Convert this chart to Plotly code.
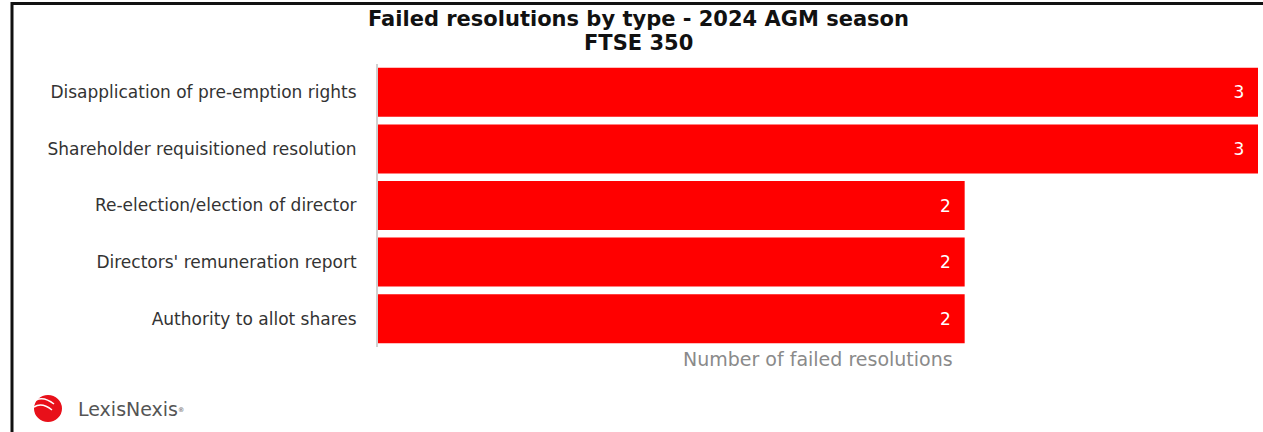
import plotly.graph_objects as go

categories = [
    "Disapplication of pre-emption rights",
    "Shareholder requisitioned resolution",
    "Re-election/election of director",
    "Directors' remuneration report",
    "Authority to allot shares",
]
values = [3, 3, 2, 2, 2]

W, H = 1263, 432
L, R, T, B = 378, 5, 64, 85
PW, PH = W - L - R, H - T - B


def px(x):
    return (x - L) / PW


def py(y):
    return (H - B - y) / PH


FONT = "'DejaVu Sans', Verdana, sans-serif"

fig = go.Figure(
    go.Bar(
        x=values,
        y=categories,
        orientation="h",
        marker=dict(color="#ff0000", line=dict(width=0)),
        text=values,
        texttemplate="%{x}\u00a0\u00a0",
        textposition="inside",
        insidetextanchor="end",
        textfont=dict(color="white", size=17, family=FONT),
        cliponaxis=False,
    )
)

fig.update_layout(
    width=W,
    height=H,
    margin=dict(l=L, r=R, t=T, b=B),
    paper_bgcolor="white",
    plot_bgcolor="white",
    bargap=0.135,
    showlegend=False,
    font=dict(family=FONT),
    xaxis=dict(range=[0, 3], showticklabels=False, showgrid=False,
               zeroline=False, showline=False, fixedrange=True),
    yaxis=dict(autorange="reversed", showgrid=False, showline=True,
               linecolor="#d0d0d0", linewidth=2, ticks="",
               ticklabelstandoff=16,
               tickfont=dict(size=17, color="#333333", family=FONT)),
    annotations=[
        dict(text="<b>Failed resolutions by type - 2024 AGM season</b>",
             x=px(638), y=py(19), xref="paper", yref="paper",
             showarrow=False, xanchor="center", yanchor="middle",
             font=dict(size=21, color="#111111", family=FONT)),
        dict(text="<b>FTSE 350</b>",
             x=px(638), y=py(43), xref="paper", yref="paper",
             showarrow=False, xanchor="center", yanchor="middle",
             font=dict(size=21, color="#111111", family=FONT)),
        dict(text="Number of failed resolutions",
             x=px(818), y=py(359), xref="paper", yref="paper",
             showarrow=False, xanchor="center", yanchor="middle",
             font=dict(size=19, color="#8a8a8a", family=FONT)),
        dict(text="LexisNexis<span style='font-size:9px'><sup>®</sup></span>",
             x=px(76), y=py(409), xref="paper", yref="paper",
             showarrow=False, xanchor="left", yanchor="middle",
             font=dict(size=19, color="#555555", family=FONT)),
    ],
    shapes=[
        # frame: top and left borders
        dict(type="line", xref="paper", yref="paper",
             x0=px(11), x1=px(W), y0=py(3.5), y1=py(3.5),
             line=dict(color="#111111", width=3)),
        dict(type="line", xref="paper", yref="paper",
             x0=px(12), x1=px(12), y0=py(2), y1=py(H),
             line=dict(color="#111111", width=3)),
        # logo sphere
        dict(type="circle", xref="paper", yref="paper",
             x0=px(34), x1=px(62), y0=py(395), y1=py(422),
             fillcolor="#e8101a", line=dict(width=0)),
        dict(type="path", xref="paper", yref="paper",
             path=f"M {px(36)},{py(400)} Q {px(44)},{py(396)} {px(54)},{py(404)}",
             line=dict(color="white", width=1.5)),
        dict(type="path", xref="paper", yref="paper",
             path=f"M {px(34)},{py(407)} Q {px(42)},{py(402)} {px(52)},{py(410)}",
             line=dict(color="white", width=1.5)),
    ],
)

fig.write_html("out.html")
